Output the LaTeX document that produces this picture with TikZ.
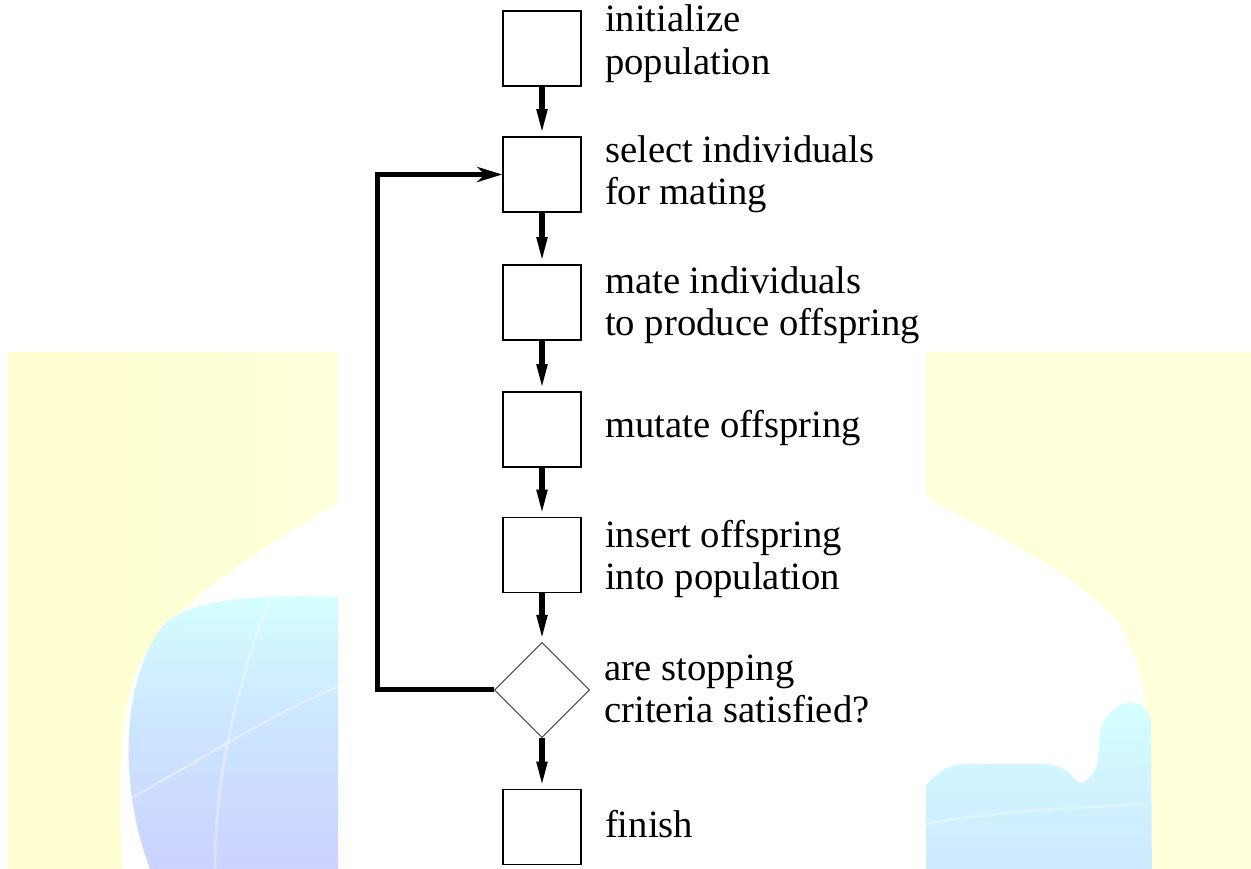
\documentclass[tikz,border=0pt]{standalone}
\usepackage{fontspec}
\setmainfont{Liberation Serif}
\usetikzlibrary{arrows.meta,positioning,shapes.geometric}
\definecolor{slideyellow}{RGB}{255,255,218}
\definecolor{slideyellowdeep}{RGB}{255,255,208}
\definecolor{globecyan}{RGB}{212,255,255}
\definecolor{globeblue}{RGB}{204,228,255}
\definecolor{globelilac}{RGB}{204,210,255}

\begin{document}
\begin{tikzpicture}[
		stepbox/.style={rectangle, draw, line width=0.85pt, minimum width=1.56cm, minimum height=1.5cm, inner sep=0pt},
		test/.style={diamond, draw=black!70, line width=0.6pt, aspect=1, minimum width=1.9cm, minimum height=1.9cm, inner sep=0pt},
		steptext/.style={inner sep=0pt, align=left, font=\fontsize{22}{24}\selectfont,
			execute at begin node=\strut, execute at end node=\strut},
		flow/.style={line width=1.1mm, -{Triangle[length=5.4mm,width=1.9mm]}},
		backflow/.style={line width=1mm, -{Stealth[length=5mm,width=3mm,inset=1.5mm]}}
		]
	\useasboundingbox (0,0) rectangle (25.02,17.38);

	% slide background on both sides
	\begin{scope}
		\clip (0.16,0) rectangle (6.76,10.34) (18.52,0) rectangle (25.02,10.34);
		\shade[left color=slideyellowdeep, right color=slideyellow] (0,0) rectangle (6.8,10.4);
		\fill[slideyellow] (18.5,0) rectangle (25.1,10.4);
		% globe
		\fill[white] (2.45,0) .. controls (2.35,2.2) and (2.4,3.4) .. (2.9,4.3)
			.. controls (3.5,5.3) and (5.2,6.4) .. (6.76,7.32)
			.. controls (10,9) and (15.5,9) .. (18.52,7.44)
			.. controls (20,6.6) and (21.4,6) .. (22.3,5)
			.. controls (23,4.1) and (23.05,2.5) .. (23.04,0) -- cycle;
		\shade[top color=globecyan, bottom color=globelilac, middle color=globeblue]
			(3,0) .. controls (2.4,1.6) and (2.4,3.6) .. (3.2,4.8)
			.. controls (3.7,5.4) and (5,5.5) .. (6.9,5.44) -- (6.9,0) -- cycle;
		\shade[top color=globecyan, bottom color=globeblue, rounded corners=0.3cm]
			(18.4,1.6) .. controls (19,2.1) .. (20.2,2.1) -- (21.2,2.1)
			.. controls (21.6,1.7) .. (21.95,1.9) .. controls (22,2.8) .. (22.2,3.2)
			.. controls (22.6,3.35) .. (23.02,3.2) -- (23.04,-0.6) -- (18.4,-0.6) -- cycle;
		% faint grid on the globe
		\draw[white, opacity=0.35, line width=1.5pt] (2.6,1.4) .. controls (4.2,2.3) and (5.6,3.2) .. (6.9,3.7);
		\draw[white, opacity=0.35, line width=1.5pt] (4.3,0) .. controls (4.3,1.8) and (4.7,3.6) .. (5.4,5.4);
		\draw[white, opacity=0.35, line width=1.5pt] (18.5,0.9) .. controls (19.6,1.1) and (20.8,1.2) .. (22.9,1.3);
	\end{scope}

	\node[stepbox] (init) at (10.84, 16.41) {};
	\node[stepbox] (select) at (10.84, 13.89) {};
	\node[stepbox] (mate) at (10.84, 11.33) {};
	\node[stepbox] (mutate) at (10.84, 8.79) {};
	\node[stepbox] (insert) at (10.84, 6.28) {};
	\node[test] (stop) at (10.84, 3.58) {};
	\node[stepbox] (finish) at (10.84, 0.84) {};

	\node[steptext, right=0.46cm of init, yshift=0.05cm] (initText) {initialize\\population};
	\node[steptext, right=0.46cm of select, yshift=-0.04cm] (selectText) {select individuals\\for mating};
	\node[steptext, right=0.46cm of mate, yshift=-0.1cm] (mateText) {mate individuals\\to produce offspring};
	\node[steptext, right=0.46cm of mutate] (mutateText) {mutate offspring};
	\node[steptext, right=0.46cm of insert, yshift=-0.12cm] (insertText) {insert offspring\\into population};
	\node[steptext, right=0.28cm of stop, yshift=-0.1cm] (stopText) {are stopping\\criteria satisfied?};
	\node[steptext, right=0.46cm of finish, yshift=-0.04cm] (finishText) {finish};

	\draw[flow] (init) -- (select);
	\draw[flow] (select) -- (mate);
	\draw[flow] (mate) -- (mutate);
	\draw[flow] (mutate) -- (insert);
	\draw[flow] (insert) -- (stop);
	\draw[flow] (stop) -- (finish);

	% back to selection
	\coordinate (turn) at (7.54, 3.58);
	\draw[backflow] (stop.west) -- (turn) |- (select.west);

\end{tikzpicture}
\end{document}
